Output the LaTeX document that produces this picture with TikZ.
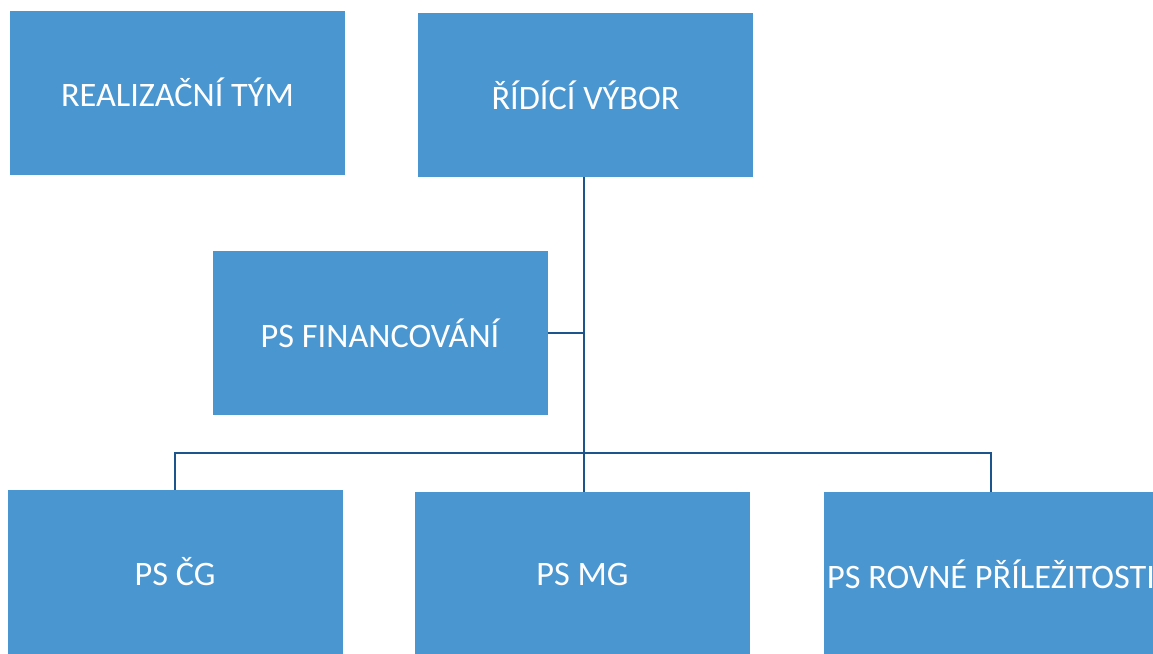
\documentclass[tikz,border=0pt]{standalone}
\usepackage{fontspec}
\setmainfont{Carlito}
\definecolor{boxblue}{RGB}{74,150,209}
\definecolor{lineblue}{RGB}{30,84,140}
\begin{document}
\begin{tikzpicture}[x=1pt,y=1pt,
 box/.style={fill=boxblue, draw=none, minimum width=335pt, minimum height=164pt, inner sep=0pt, text=white, font=\fontsize{34.3}{40}\selectfont},
 conn/.style={draw=lineblue, line width=1.8pt}]
\useasboundingbox (0,0) rectangle (1153,-653);
\clip (0,0) rectangle (1153,-653);
\node[box] (rt) at (177.5,-92.5) {REALIZAČNÍ TÝM};
\node[box] (rv) at (585.5,-95) {ŘÍDÍCÍ VÝBOR};
\node[box] (fin) at (380,-333) {PS FINANCOVÁNÍ};
\node[box] (cg) at (175,-572) {PS ČG};
\node[box] (mg) at (582.5,-574) {PS MG};
\node[box] (ro) at (991,-574) {PS ROVNÉ PŘÍLEŽITOSTI};
\coordinate (bus) at (584,-453);
\draw[conn] (rv.south -| bus) -- (bus);
\draw[conn] (fin.east) -- (fin.east -| bus);
\draw[conn] (cg.north) |- (bus) -| (ro.north);
\draw[conn] (bus) -- (mg.north -| bus);
\end{tikzpicture}
\end{document}
